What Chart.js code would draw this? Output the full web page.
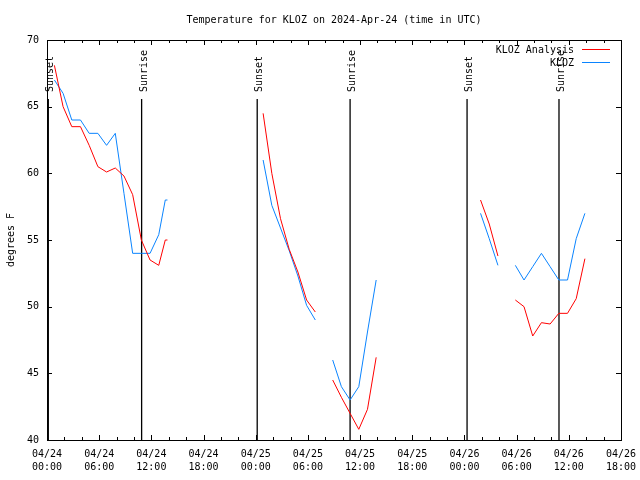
<!DOCTYPE html>
<html>
<head>
<meta charset="utf-8">
<script src="https://cdn.jsdelivr.net/npm/chart.js@4"></script>
<style>
  body { margin: 0; background: #fff; }
</style>
</head>
<body>
<canvas id="grafico" width="640" height="480"></canvas>
<script>
// hours since 2024-04-24 00:00 UTC, a null temperature breaks the line
const horas = [
    0.85, 1.85, 2.85, 3.85, 4.85, 5.85, 6.85, 7.85, 8.85, 9.85, 10.85, 11.85, 12.85, 13.6, 13.85,
    20,
    24.85, 25.85, 26.85, 27.85, 28.85, 29.85, 30.85,
    31.85,
    32.85, 33.85, 34.85, 35.85, 36.85, 37.85,
    44,
    49.85, 50.85, 51.85,
    52.85,
    53.85, 54.85, 55.85, 56.85, 57.85, 58.85, 59.85, 60.85, 61.85
];
const tempAnalise = [
    68.1, 65.0, 63.5, 63.5, 62.1, 60.5, 60.1, 60.4, 59.8, 58.4, 55.0, 53.5, 53.1, 55.0, 55.0,
    null,
    64.5, 60.0, 56.6, 54.3, 52.6, 50.5, 49.6,
    null,
    44.5, 43.2, 42.0, 40.8, 42.3, 46.2,
    null,
    58.0, 56.2, 53.8,
    null,
    50.5, 50.0, 47.8, 48.8, 48.7, 49.5, 49.5, 50.6, 53.6
];
const tempObs = [
    67.0, 66.0, 64.0, 64.0, 63.0, 63.0, 62.1, 63.0, 58.5, 54.0, 54.0, 54.0, 55.4, 58.0, 58.0,
    null,
    61.0, 57.6, 55.9, 54.2, 52.3, 50.1, 49.0,
    null,
    46.0, 44.0, 43.0, 44.0, 48.1, 52.0,
    null,
    57.0, 55.1, 53.1,
    null,
    53.1, 52.0, 53.0, 54.0, 53.0, 52.0, 52.0, 55.1, 57.0
];

const eventosNome = ['Sunset', 'Sunrise', 'Sunset', 'Sunrise', 'Sunset', 'Sunrise'];
const eventosHora = [0.15, 10.88, 24.17, 34.85, 48.3, 58.87];

const diasLabel = ['04/24', '04/25', '04/26'];
const horasLabel = ['00:00', '06:00', '12:00', '18:00'];

const fonte = '10px "DejaVu Sans Mono", monospace';

const moldura = {
    id: 'moldura',
    beforeDatasetsDraw(chart) {
        const ctx = chart.ctx;
        const area = chart.chartArea;
        const x = chart.scales.x;
        ctx.save();
        ctx.strokeStyle = '#000';
        ctx.fillStyle = '#000';
        ctx.lineWidth = 1.3;
        ctx.font = fonte;
        ctx.textAlign = 'left';
        ctx.textBaseline = 'alphabetic';
        eventosHora.forEach((h, i) => {
            const px = x.getPixelForValue(h);
            ctx.beginPath();
            ctx.moveTo(px, area.top + 59);
            ctx.lineTo(px, area.bottom);
            ctx.stroke();
            ctx.save();
            ctx.translate(px + 5, area.top + 52);
            ctx.rotate(-Math.PI / 2);
            ctx.fillText(eventosNome[i], 0, 0);
            ctx.restore();
        });
        ctx.restore();
    },
    afterDatasetsDraw(chart) {
        const ctx = chart.ctx;
        const area = chart.chartArea;
        const x = chart.scales.x;
        const y = chart.scales.y;
        ctx.save();
        ctx.strokeStyle = '#000';
        ctx.lineWidth = 1;
        ctx.strokeRect(Math.round(area.left) + 0.5, Math.round(area.top) + 0.5,
            Math.round(area.right - area.left), Math.round(area.bottom - area.top));

        // inward tics, every 2 hours, longer every 6
        ctx.beginPath();
        for (let h = x.min; h <= x.max; h += 2) {
            const px = Math.round(x.getPixelForValue(h)) + 0.5;
            const len = h % 6 === 0 ? 5 : 3;
            ctx.moveTo(px, area.bottom);
            ctx.lineTo(px, area.bottom - len);
            ctx.moveTo(px, area.top);
            ctx.lineTo(px, area.top + len);
        }
        y.ticks.forEach(t => {
            const py = Math.round(y.getPixelForValue(t.value)) + 0.5;
            ctx.moveTo(area.left, py);
            ctx.lineTo(area.left + 5, py);
            ctx.moveTo(area.right, py);
            ctx.lineTo(area.right - 5, py);
        });
        ctx.stroke();

        // legend
        ctx.font = fonte;
        ctx.fillStyle = '#000';
        ctx.textAlign = 'right';
        ctx.textBaseline = 'middle';
        chart.data.datasets.forEach((ds, i) => {
            const ly = area.top + 10 + i * 13;
            ctx.fillText(ds.label, 574, ly);
            ctx.strokeStyle = ds.borderColor;
            ctx.beginPath();
            ctx.moveTo(582, ly - 0.5);
            ctx.lineTo(610, ly - 0.5);
            ctx.stroke();
        });

        // title and y axis name
        ctx.textAlign = 'center';
        ctx.fillText('Temperature for KLOZ on 2024-Apr-24 (time in UTC)', (area.left + area.right) / 2, 20);
        ctx.save();
        ctx.translate(11, (area.top + area.bottom) / 2);
        ctx.rotate(-Math.PI / 2);
        ctx.fillText('degrees F', 0, 0);
        ctx.restore();
        ctx.restore();
    }
};

function montarGrafico() {
    const analise = horas.map((h, i) => ({ x: h, y: tempAnalise[i] }));
    const obs = horas.map((h, i) => ({ x: h, y: tempObs[i] }));

    new Chart(document.getElementById('grafico'), {
        type: 'line',
        data: {
            datasets: [{
                label: 'KLOZ Analysis',
                data: analise,
                borderColor: '#ff0000',
                borderWidth: 1,
                pointRadius: 0,
                tension: 0
            }, {
                label: 'KLOZ',
                data: obs,
                borderColor: '#0a84ff',
                borderWidth: 1,
                pointRadius: 0,
                tension: 0
            }]
        },
        options: {
            responsive: false,
            animation: false,
            layout: { padding: { top: 40, right: 19, left: 0, bottom: 0 } },
            plugins: {
                legend: { display: false },
                tooltip: { enabled: false }
            },
            scales: {
                x: {
                    type: 'linear',
                    min: 0,
                    max: 66,
                    afterFit: s => { s.height = 40; s.paddingLeft = 0; s.paddingRight = 0; },
                    grid: { display: false, drawTicks: false },
                    border: { display: false },
                    ticks: {
                        stepSize: 6,
                        autoSkip: false,
                        maxRotation: 0,
                        padding: 8,
                        color: '#000',
                        font: { family: '"DejaVu Sans Mono", monospace', size: 10, lineHeight: 1.3 },
                        callback: v => [diasLabel[Math.floor(v / 24)] || '04/27', horasLabel[(v % 24) / 6]]
                    }
                },
                y: {
                    min: 40,
                    max: 70,
                    afterFit: s => { s.width = 47; s.paddingTop = 0; s.paddingBottom = 0; },
                    grid: { display: false, drawTicks: false },
                    border: { display: false },
                    ticks: {
                        stepSize: 5,
                        padding: 8,
                        color: '#000',
                        font: { family: '"DejaVu Sans Mono", monospace', size: 10 }
                    }
                }
            }
        },
        plugins: [moldura]
    });
}

montarGrafico();
</script>
</body>
</html>
